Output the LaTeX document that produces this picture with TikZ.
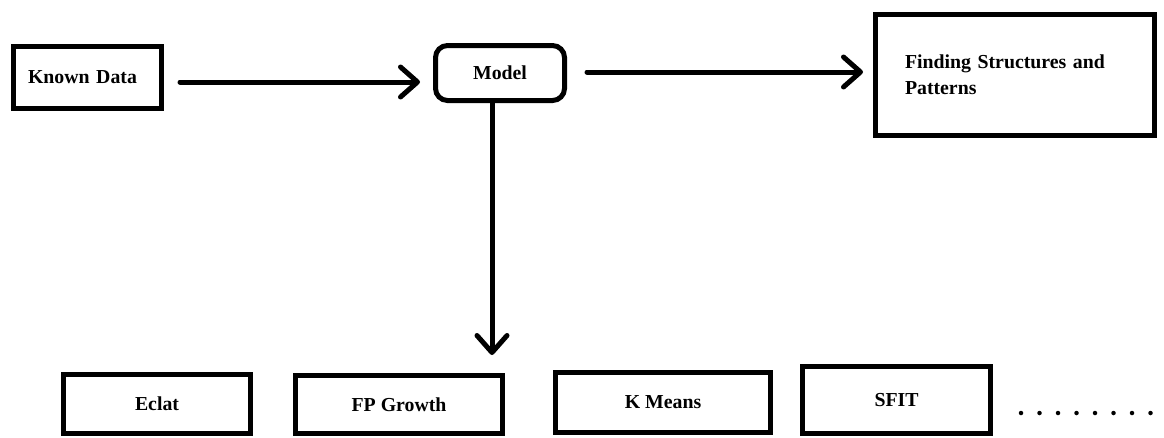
\documentclass[tikz,border=0pt]{standalone}
\usepackage{fontspec}
\setmainfont{Liberation Serif}
\usetikzlibrary{arrows.meta}
\begin{document}
\begin{tikzpicture}[x=1pt,y=-1pt,
  every node/.style={font=\fontsize{19.8}{26}\selectfont\bfseries},
  box/.style={draw=black,line width=5pt,rectangle,inner sep=0pt,fill=white},
  arr/.style={line width=5pt,line cap=round,-{Straight Barb[length=17pt,width=30pt,round]}},
  dotstyle/.style={fill=black,circle,inner sep=0pt,minimum size=4.5pt}]
\useasboundingbox (0,0) rectangle (1164,437);
% top row
\node[box,minimum width=148pt,minimum height=62pt,text width=119pt,align=left] (kd) at (87.5,77.5) {Known Data};
\node[box,rounded corners=12pt,minimum width=129pt,minimum height=55pt] (model) at (500,73) {Model};
\node[box,minimum width=279pt,minimum height=121pt,text width=220pt,align=left] (fd) at (1015,75) {Finding Structures and\\Patterns};
% bottom row
\node[box,minimum width=187pt,minimum height=59pt] (eclat) at (157,404) {Eclat};
\node[box,minimum width=207pt,minimum height=58pt] (fp) at (399,404.5) {FP Growth};
\node[box,minimum width=215pt,minimum height=60pt] (km) at (663,402.5) {K Means};
\node[box,minimum width=188pt,minimum height=67pt] (sfit) at (896.5,400) {SFIT};
% dots
\foreach \i in {0,...,7}{
  \node[dotstyle] (dot\i) at ({1021+\i*18.5},413) {};
}
% connectors
\draw[arr,shorten <=16pt,shorten >=13pt] ([yshift=-4.5pt]kd.east) -- ([yshift=-4.5pt]kd.east -| model.west);
\draw[arr,shorten <=20pt,shorten >=10pt] ([yshift=1pt]model.east) -- ([yshift=1pt]model.east -| fd.west);
\coordinate (vtip) at (492,355);
\draw[arr] ([xshift=-8pt]model.south) -- (vtip);
\end{tikzpicture}
\end{document}
